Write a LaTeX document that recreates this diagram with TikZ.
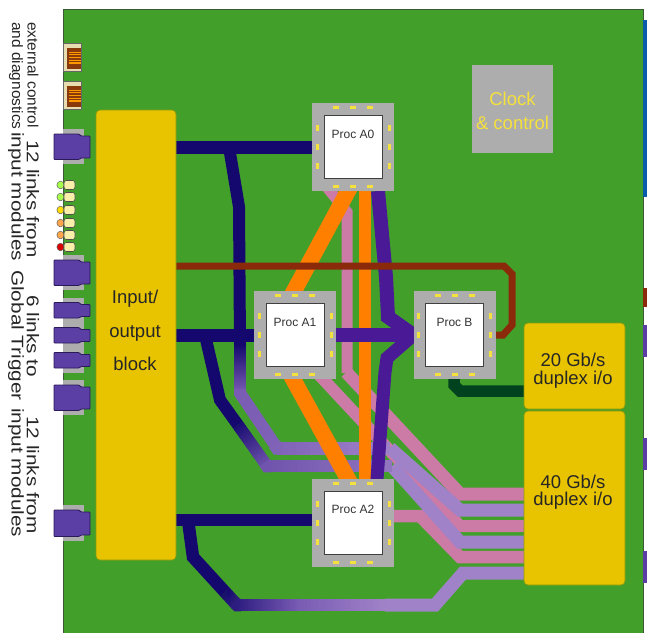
\documentclass[tikz,border=0pt]{standalone}
\usepackage{fontspec}
\usepackage{graphicx}
\setmainfont{Liberation Sans}
\usetikzlibrary{calc,backgrounds}
\definecolor{boardc}{HTML}{42A02A}
\definecolor{goldc}{HTML}{E8C300}
\definecolor{goldb}{HTML}{8A9A10}
\definecolor{grayc}{HTML}{ADADAD}
\definecolor{navyc}{HTML}{14086E}
\definecolor{purpc}{HTML}{4A1A96}
\definecolor{midp}{HTML}{7A5CB4}
\definecolor{lavc}{HTML}{A082C8}
\definecolor{pinkc}{HTML}{CC7AA6}
\definecolor{orangec}{HTML}{FF8000}
\definecolor{brownc}{HTML}{8A2A0A}
\definecolor{greenk}{HTML}{00431E}
\definecolor{dashc}{HTML}{F5E13C}
\definecolor{connc}{HTML}{5B3FA5}
\definecolor{connb}{HTML}{2A1A5A}
\definecolor{bluec}{HTML}{0B5CA8}
\definecolor{beigec}{HTML}{E8DDB0}
\definecolor{rustc}{HTML}{8A3A0A}
\definecolor{ledc}{HTML}{F8EFA8}
\tikzset{
  track/.style={line width=#1, line join=miter, line cap=butt, miter limit=10},
  track/.default=11pt,
  intoblock/.style={shorten <=-7pt, shorten >=-7pt},
  procbox/.style={fill=grayc, draw=none, minimum width=82pt, minimum height=88pt, inner sep=0pt, outer sep=0pt},
  chipbox/.style={fill=white, draw=black!75, line width=0.8pt, minimum width=58pt, minimum height=63pt, inner sep=0pt, outer sep=0pt},
  chiplabel/.style={font=\fontsize{12}{14}\selectfont, text=black!80, inner sep=0pt, anchor=base},
  goldbox/.style={fill=goldc, draw=goldb, line width=0.7pt, rounded corners=4pt, inner sep=0pt, outer sep=0pt},
  goldtext/.style={font=\fontsize{18.5}{18.5}\selectfont, text=black!85, inner sep=0pt, anchor=base},
  cktext/.style={font=\fontsize{18.5}{18}\selectfont, text=dashc, inner sep=0pt, anchor=base},
  sidetext/.style={rotate=-90, inner sep=0pt, text=black!85, anchor=west},
  padmark/.style={fill=dashc, draw=none}
}
\newcommand\sidea[1]{\fontsize{15}{14}\selectfont\scalebox{1.03}[1]{#1}}
\newcommand\sideb[1]{\fontsize{17}{14}\selectfont\scalebox{1.22}[1]{#1}}
\newcommand\gseg[5][11pt]{%
  \foreach \i in {1,...,24}{%
    \pgfmathsetmacro\ga{(\i-1)/24}%
    \pgfmathsetmacro\gb{min(1,\i/24+0.012)}%
    \pgfmathsetmacro\gm{100*(\i-0.5)/24}%
    \draw[track=#1, draw={#5!\gm!#4}] ($(#2)!\ga!(#3)$) -- ($(#2)!\gb!(#3)$);
  }}
\newcommand\gcorner[5][11pt]{%
  \draw[track=#1, draw=#5] ($(#3)!4pt!(#2)$) -- (#3) -- ($(#3)!4pt!(#4)$);}
\newcommand\padring[1]{%
  \foreach \d in {-17,0,17}{%
    \fill[padmark] ($(#1)+(\d-3,-40-1.5)$) rectangle ++(6,3);
    \fill[padmark] ($(#1)+(\d-3,39-1.5)$) rectangle ++(6,3);
  }
  \foreach \d in {-19,0,19}{%
    \fill[padmark] ($(#1)+(-36-1.5,\d-3)$) rectangle ++(3,6);
    \fill[padmark] ($(#1)+(36-1.5,\d-3)$) rectangle ++(3,6);
  }}
\newcommand\pconn[2]{% centre y, half height
  \fill[grayc] (63,#1-#2-5) rectangle (84,#1+#2+5);
  \draw[fill=connc, draw=connb, line width=0.8pt, rounded corners=0.8pt]
    (54,#1-#2) -- (79,#1-#2) -- (81,#1-#2+2) -- (90,#1-#2+2) -- (90,#1+#2-1) -- (81,#1+#2-1) -- (79,#1+#2+0.5) -- (54,#1+#2+0.5) -- cycle;}
\newcommand\bconn[1]{% top y
  \draw[fill=beigec, draw=black!60, line width=0.5pt] (63.5,#1) rectangle (81.5,#1+28);
  \fill[rustc] (67,#1+4) rectangle (81,#1+25);
  \foreach \k in {0,1,2,3,4}{\fill[orange!80!yellow] (69,#1+8+2.7*\k) rectangle (81,#1+9.2+2.7*\k);}}
\newcommand\led[2]{% y, colour
  \draw[fill=#2, draw=black!60, line width=0.5pt] (60.5,#1) ellipse (3.6 and 3.8);
  \draw[fill=ledc, draw=black!70, line width=0.6pt, rounded corners=2.5pt] (64,#1-4.5) rectangle (75,#1+4.5);}
\pgfdeclarelayer{tracks}
\pgfsetlayers{tracks,main}
\begin{document}
\begin{tikzpicture}[x=1pt,y=-1pt]
\useasboundingbox (0,0) rectangle (647,633);
% main blocks
\node[goldbox, minimum width=80pt, minimum height=450pt] (io) at (136,335) {};
\node[goldbox, minimum width=101pt, minimum height=86pt] (g20) at (574.5,366) {};
\node[goldbox, minimum width=101pt, minimum height=174pt] (g40) at (574.5,498) {};
\node[fill=grayc, minimum width=81pt, minimum height=88pt, inner sep=0pt] (clock) at (512.5,109) {};
\node[procbox] (a0) at (353,147) {};
\node[procbox] (a1) at (295,335) {};
\node[procbox] (pb) at (454.5,335) {};
\node[procbox] (a2) at (353,523) {};
\node[chipbox] (a0c) at (353,146.5) {};
\node[chipbox] (a1c) at (295,334.5) {};
\node[chipbox] (pbc) at (454.5,334.5) {};
\node[chipbox] (a2c) at (353,522.5) {};
\padring{a0}\padring{a1}\padring{pb}\padring{a2}
\node[chiplabel] (a0t) at (353,138) {Proc A0};
\node[chiplabel] (a1t) at (295,326) {Proc A1};
\node[chiplabel] (pbt) at (454.5,326) {Proc B};
\node[chiplabel] (a2t) at (353,513) {Proc A2};
\node[goldtext] (iot1) at (135,303) {Input/};
\node[goldtext] (iot2) at (135,337) {output};
\node[goldtext] (iot3) at (135,370) {block};
\node[goldtext] (g20t1) at (573,366.5) {20 Gb/s};
\node[goldtext] (g20t2) at (573,384) {duplex i/o};
\node[goldtext] (g40t1) at (573,488) {40 Gb/s};
\node[goldtext] (g40t2) at (573,505) {duplex i/o};
\node[cktext] (ct1) at (512.5,105) {Clock};
\node[cktext] (ct2) at (512.5,129) {\& control};
% rotated side labels
\node[sidetext] (s1) at (33,22) {\sidea{external control}};
\node[sidetext] (s2) at (16,22) {\sidea{and diagnostics}};
\node[sidetext] (s3) at (33,140) {\sideb{12 links from}};
\node[sidetext] (s4) at (16,132) {\sideb{input modules}};
\node[sidetext] (s5) at (33,295) {\sideb{6 links to}};
\node[sidetext] (s6) at (16,270) {\sideb{Global Trigger}};
\node[sidetext] (s7) at (33,416) {\sideb{12 links from}};
\node[sidetext] (s8) at (16,408) {\sideb{input modules}};
% routing coordinates
\coordinate (a2in) at (312,520);
\coordinate (a2pk) at (394,516);
\coordinate (n1) at (229,147);
\coordinate (n2) at (239,207);
\coordinate (n3) at (240,345);
\coordinate (n4) at (240,393);
\coordinate (n5) at (277,448);
\coordinate (n6) at (390,448);
\coordinate (m1) at (205,335);
\coordinate (m3) at (220,400);
\coordinate (m4) at (238,425);
\coordinate (m5) at (267,466);
\coordinate (m6) at (392,466);
\coordinate (k1) at (188,520);
\coordinate (k2) at (193,557);
\coordinate (k3) at (225,592);
\coordinate (k4) at (237,605);
\coordinate (k5) at (300,605);
\coordinate (k6) at (385,605);
\coordinate (k7) at (435,605);
\coordinate (k8) at (463,573);
\coordinate (pk1) at (460,494);
\coordinate (lv1) at (460,510);
\coordinate (pk2) at (460,526);
\coordinate (lv2) at (460,542);
\coordinate (pk3) at (460,557);
\coordinate (a0pk) at (330,191);
\coordinate (pw1) at (347,212);
\coordinate (pw2) at (347,373);
\coordinate (a1pk) at (323,379);
\coordinate (a2k1) at (420,516);
\coordinate (a0or) at (348,191);
\coordinate (a1ot) at (294,291);
\coordinate (a1ob) at (293,379);
\coordinate (a2ol) at (348,479);
\coordinate (a0ov) at (365,191);
\coordinate (a2ov) at (365,479);
\coordinate (a0pu) at (378,191);
\coordinate (u1) at (386,277);
\coordinate (u2) at (388,317);
\coordinate (a2pu) at (377,479);
\coordinate (v1) at (385,372);
\coordinate (v2) at (387,358);
\coordinate (b1) at (176,266);
\coordinate (b2) at (504,266);
\coordinate (b3) at (512,274);
\coordinate (b4) at (512,325);
\coordinate (b5) at (503,335);
\coordinate (g1) at (454,379);
\coordinate (g2) at (454,385);
\coordinate (g3) at (460,391);
\begin{pgfonlayer}{tracks}
% board
\fill[boardc] (63,9) rectangle (643,633);
\draw[black!55!boardc!70!gray, line width=0.8pt] (63,633) -- (63,9) -- (643,9) -- (643,633);
% right edge connectors
\fill[bluec] (643,20) rectangle (647,197);
\fill[brownc] (643,288) rectangle (647,307);
\foreach \y in {325,438,551} {\fill[connc] (643,\y) rectangle (647,\y+32);}
% left edge
\bconn{43.5}\bconn{81.5}
\pconn{146.5}{12.5}\pconn{272.5}{12.5}\pconn{310}{7.5}\pconn{335}{7.5}\pconn{360}{7.5}\pconn{397.5}{12.5}\pconn{523}{13}
\led{185}{green!50!yellow!70!white}\led{197}{green!50!yellow!70!white}\led{210}{yellow!80!orange}\led{223}{orange!70!white}\led{235}{orange!70!white}\led{247}{red!85!black}
% pink tracks
\draw[track, draw=pinkc, shorten <=-6pt] (a0pk) -- (pw1) -- (pw2);
\draw[track=13pt, draw=pinkc, shorten <=-1pt] (pw2) -- (pk1) -- (g40.west |- pk1);
\draw[track=12pt, draw=pinkc, shorten <=-6pt] (a1pk) -- (pk2) -- (g40.west |- pk2);
\draw[track=12.5pt, draw=pinkc] (a2pk) -- (a2k1) -- (pk3) -- (g40.west |- pk3);
% lavender ends
\draw[track=13pt, draw=lavc] (n6) -- (lv1) -- (g40.west |- lv1);
\draw[track=13pt, draw=lavc] (m6) -- (lv2) -- (g40.west |- lv2);
\draw[track=13pt, draw=lavc] (k6) -- (k7) -- (k8) -- (g40.west |- k8);
% graded branches
\gseg[12pt]{n3}{n4}{navyc}{midp}
\gcorner[12pt]{n3}{n4}{n5}{midp}
\gseg[12pt]{n4}{n5}{midp}{midp!85!lavc}
\gcorner[13pt]{n4}{n5}{n6}{midp!85!lavc}
\gseg[13pt]{n5}{n6}{midp!85!lavc}{lavc}
\gseg[12pt]{m4}{m5}{navyc!95!midp}{midp!90!navyc}
\gcorner[12.5pt]{m4}{m5}{m6}{midp!90!navyc}
\gseg[12.5pt]{m5}{m6}{midp!90!navyc}{lavc}
\gseg[12.5pt]{k3}{k4}{navyc}{navyc!75!midp}
\gcorner[12.5pt]{k3}{k4}{k5}{navyc!75!midp}
\gseg[12.5pt]{k4}{k5}{navyc!75!midp}{midp}
\gseg[12.5pt]{k5}{k6}{midp}{lavc}
% navy stems
\draw[track=12pt, draw=navyc] (n1) -- (n2) -- (n3);
\draw[track=12pt, draw=navyc] (m1) -- (m3) -- (m4);
\draw[track=12.5pt, draw=navyc] (k1) -- (k2) -- (k3);
\draw[track=13pt, draw=navyc] (io.east |- a0.west) -- (a0.west);
\draw[track=13pt, draw=navyc] (io.east |- a1.west) -- (a1.west);
\draw[track=12pt, draw=navyc] (io.east |- a2in) -- (a2in);
% orange
\draw[track=16pt, draw=orangec, intoblock] (a0or) -- (a1ot);
\draw[track=16pt, draw=orangec, intoblock] (a1ob) -- (a2ol);
\draw[track=12pt, draw=orangec] (a0ov) -- (a2ov);
% purple to Proc B
\draw[track=14pt, draw=purpc] (a1.east) -- (pb.west);
\draw[track=14pt, draw=purpc] (a0pu) -- (u1) -- (u2) -- (pb.west);
\draw[track=13pt, draw=purpc, shorten <=-3pt] (a2pu) -- (v1) -- (v2) -- (pb.west);
% green
\draw[track=11.5pt, draw=greenk] (g1) -- (g2) -- (g3) -- (g20.west |- g3);
% brown
\draw[track=7pt, draw=brownc] (b1) -- (b2) -- (b3) -- (b4) -- (b5) -- (pb.east |- b5);
\end{pgfonlayer}
\end{tikzpicture}
\end{document}
